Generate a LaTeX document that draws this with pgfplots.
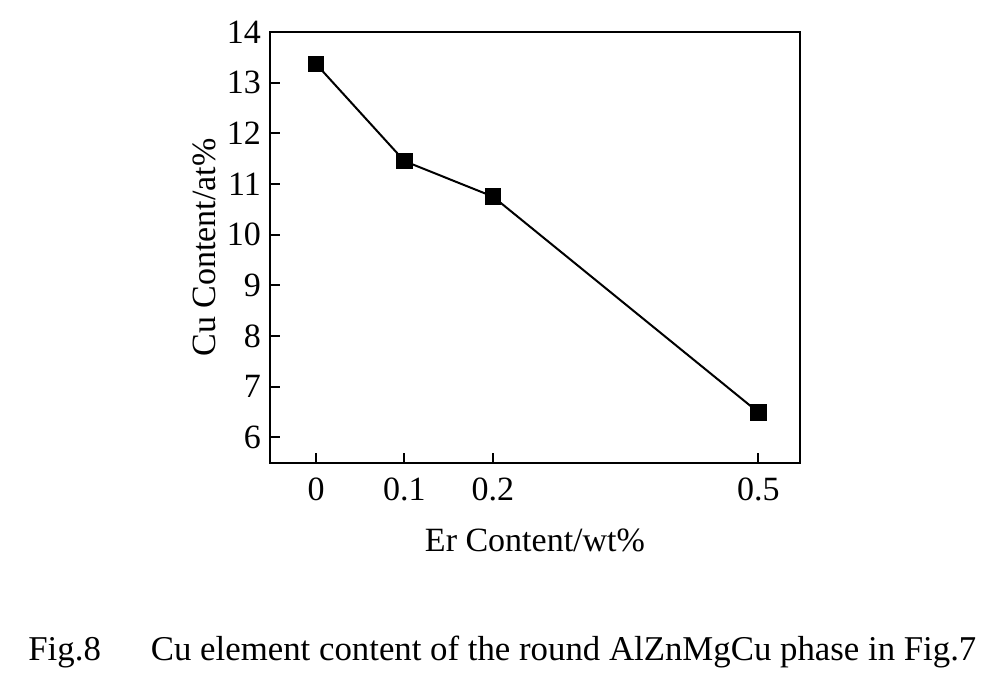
\documentclass[border=0pt]{standalone}
\usepackage{pgfplots}
\pgfplotsset{compat=1.18}
\usepackage{fontspec}
\setmainfont{Liberation Serif}
\begin{document}
\begin{tikzpicture}[x=0.5pt,y=0.5pt]
\useasboundingbox (0,0) rectangle (1002,692);
\begin{axis}[
  at={(135pt,114.5pt)}, anchor=south west,
  scale only axis, width=265pt, height=215.5pt,
  xmin=-0.052, xmax=0.547, ymin=5.49, ymax=14,
  xtick={0,0.1,0.2,0.5}, xticklabels={0,0.1,0.2,0.5},
  ytick={6,7,8,9,10,11,12,13,14},
  tick align=inside, major tick length=5pt,
  xtick pos=bottom, ytick pos=left,
  axis line style={line width=1.2pt},
  every tick/.style={line width=1pt,black},
  /pgf/number format/assume math mode=true,
  ticklabel style={font=\fontsize{17}{19}\selectfont},
  xticklabel style={yshift=-4pt},
  yticklabel style={xshift=-1pt},
  xlabel={Er Content/wt\%},
  ylabel={Cu Content/at\%},
  label style={font=\fontsize{17}{19}\selectfont},
  xlabel style={yshift=-7pt},
  ylabel style={yshift=-1.5pt},
]
\addplot[black, line width=1pt, mark=square*, mark size=3.6pt, mark options={solid,fill=black}]
  coordinates {(0,13.37) (0.1,11.45) (0.2,10.75) (0.5,6.49)};
\end{axis}
\node[font=\fontsize{17.4}{19}\selectfont, anchor=base west, inner sep=0pt] at (28,32) {Fig.8\hspace{25pt}Cu element content of the round AlZnMgCu phase in Fig.7};
\end{tikzpicture}
\end{document}
